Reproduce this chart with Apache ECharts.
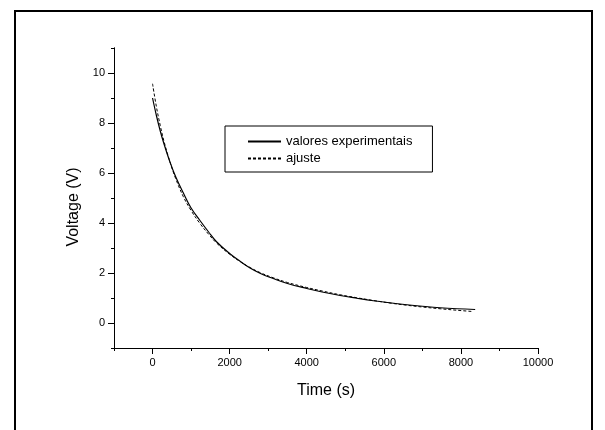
<!DOCTYPE html>
<html>
<head>
<meta charset="utf-8">
<script src="https://cdn.jsdelivr.net/npm/echarts@6/dist/echarts.min.js"></script>
<style>
html,body{margin:0;padding:0;background:#fff;}
#c{width:605px;height:430px;}
</style>
</head>
<body>
<div id="c"></div>
<script>
// ---- data ----
const expTime = [0,100,200,300,450,600,800,1000,1230,1450,1660,2000,2270,2530,2800,3130,3500,4000,4400,4865,5300,5730,6200,6600,7000,7460,7900,8370];
const expVolt = [9.0,8.3,7.68,7.15,6.45,5.85,5.2,4.6,4.1,3.65,3.25,2.78,2.47,2.2,1.98,1.78,1.58,1.38,1.24,1.10,0.99,0.89,0.80,0.73,0.67,0.61,0.57,0.54];
const fitTime = [0,100,200,300,450,600,800,1000,1230,1450,1660,2000,2270,2530,2800,3130,3500,4000,4400,4865,5300,5730,6200,6600,7000,7460,7900,8300];
const fitVolt = [9.57,8.65,7.9,7.25,6.45,5.78,5.05,4.5,3.98,3.56,3.2,2.75,2.46,2.22,2.01,1.81,1.62,1.42,1.28,1.13,1.01,0.9,0.79,0.71,0.64,0.57,0.51,0.46];
const xTickLabels = [0,2000,4000,6000,8000,10000];
const yTickLabels = [0,2,4,6,8,10];
const seriesNames = ['valores experimentais','ajuste'];

const FONT = 'Liberation Sans, Arial, Helvetica, sans-serif';
const chart = echarts.init(document.getElementById('c'), null, {renderer:'canvas'});

const axisLineStyle = {show:true, onZero:false, lineStyle:{color:'#000', width:1}};
const plain = v => String(v);
const option = {
  backgroundColor:'#fff',
  animation:false,
  grid:{left:114, right:67, top:48, bottom:82, containLabel:false},
  graphic:[{
    type:'rect', silent:true, z:-1,
    shape:{x:15, y:11, width:577, height:430},
    style:{fill:'none', stroke:'#000', lineWidth:2}
  }],
  legend:{
    orient:'vertical', left:225, top:126,
    data:seriesNames,
    borderColor:'#000', borderWidth:1,
    padding:[9,20,7,22],
    itemWidth:33, itemHeight:14, itemGap:4,
    itemStyle:{opacity:0},
    textStyle:{fontFamily:FONT, fontSize:13, color:'#000'}
  },
  xAxis:[{
    type:'value', min:-1000, max:10000, interval:1000,
    axisLine:axisLineStyle,
    axisTick:{show:true, length:3, lineStyle:{color:'#000'}},
    axisLabel:{show:false},
    splitLine:{show:false}
  },{
    type:'value', min:-1000, max:10000, position:'bottom', offset:0,
    axisLine:axisLineStyle,
    axisTick:{show:true, length:6, customValues:xTickLabels, lineStyle:{color:'#000'}},
    axisLabel:{show:true, customValues:xTickLabels, formatter:plain, margin:9, fontFamily:FONT, fontSize:11, color:'#000'},
    splitLine:{show:false},
    name:'Time (s)', nameLocation:'middle', nameGap:35,
    nameTextStyle:{fontFamily:FONT, fontSize:16, color:'#000'}
  }],
  yAxis:[{
    type:'value', min:-1, max:11, interval:1,
    axisLine:axisLineStyle,
    axisTick:{show:true, length:3, lineStyle:{color:'#000'}},
    axisLabel:{show:false},
    splitLine:{show:false}
  },{
    type:'value', min:-1, max:11, position:'left', offset:0,
    axisLine:axisLineStyle,
    axisTick:{show:true, length:6, customValues:yTickLabels, lineStyle:{color:'#000'}},
    axisLabel:{show:true, customValues:yTickLabels, formatter:plain, margin:9, fontFamily:FONT, fontSize:11, color:'#000'},
    splitLine:{show:false},
    name:'Voltage (V)', nameLocation:'middle', nameGap:32, nameRotate:90,
    nameTextStyle:{fontFamily:FONT, fontSize:16, color:'#000', padding:[0,18,0,0]}
  }],
  series:[{
    name:seriesNames[0], type:'line', xAxisIndex:1, yAxisIndex:1,
    data:expTime.map((t,i)=>[t,expVolt[i]]),
    smooth:0.4, symbol:'none',
    lineStyle:{color:'#000', width:1.2, type:'solid'},
    itemStyle:{color:'#000', opacity:0}
  },{
    name:seriesNames[1], type:'line', xAxisIndex:1, yAxisIndex:1,
    data:fitTime.map((t,i)=>[t,fitVolt[i]]),
    smooth:0.4, symbol:'none',
    lineStyle:{color:'#000', width:1, type:[3,2]},
    itemStyle:{color:'#000', opacity:0}
  }]
};
chart.setOption(option);
</script>
</body>
</html>
